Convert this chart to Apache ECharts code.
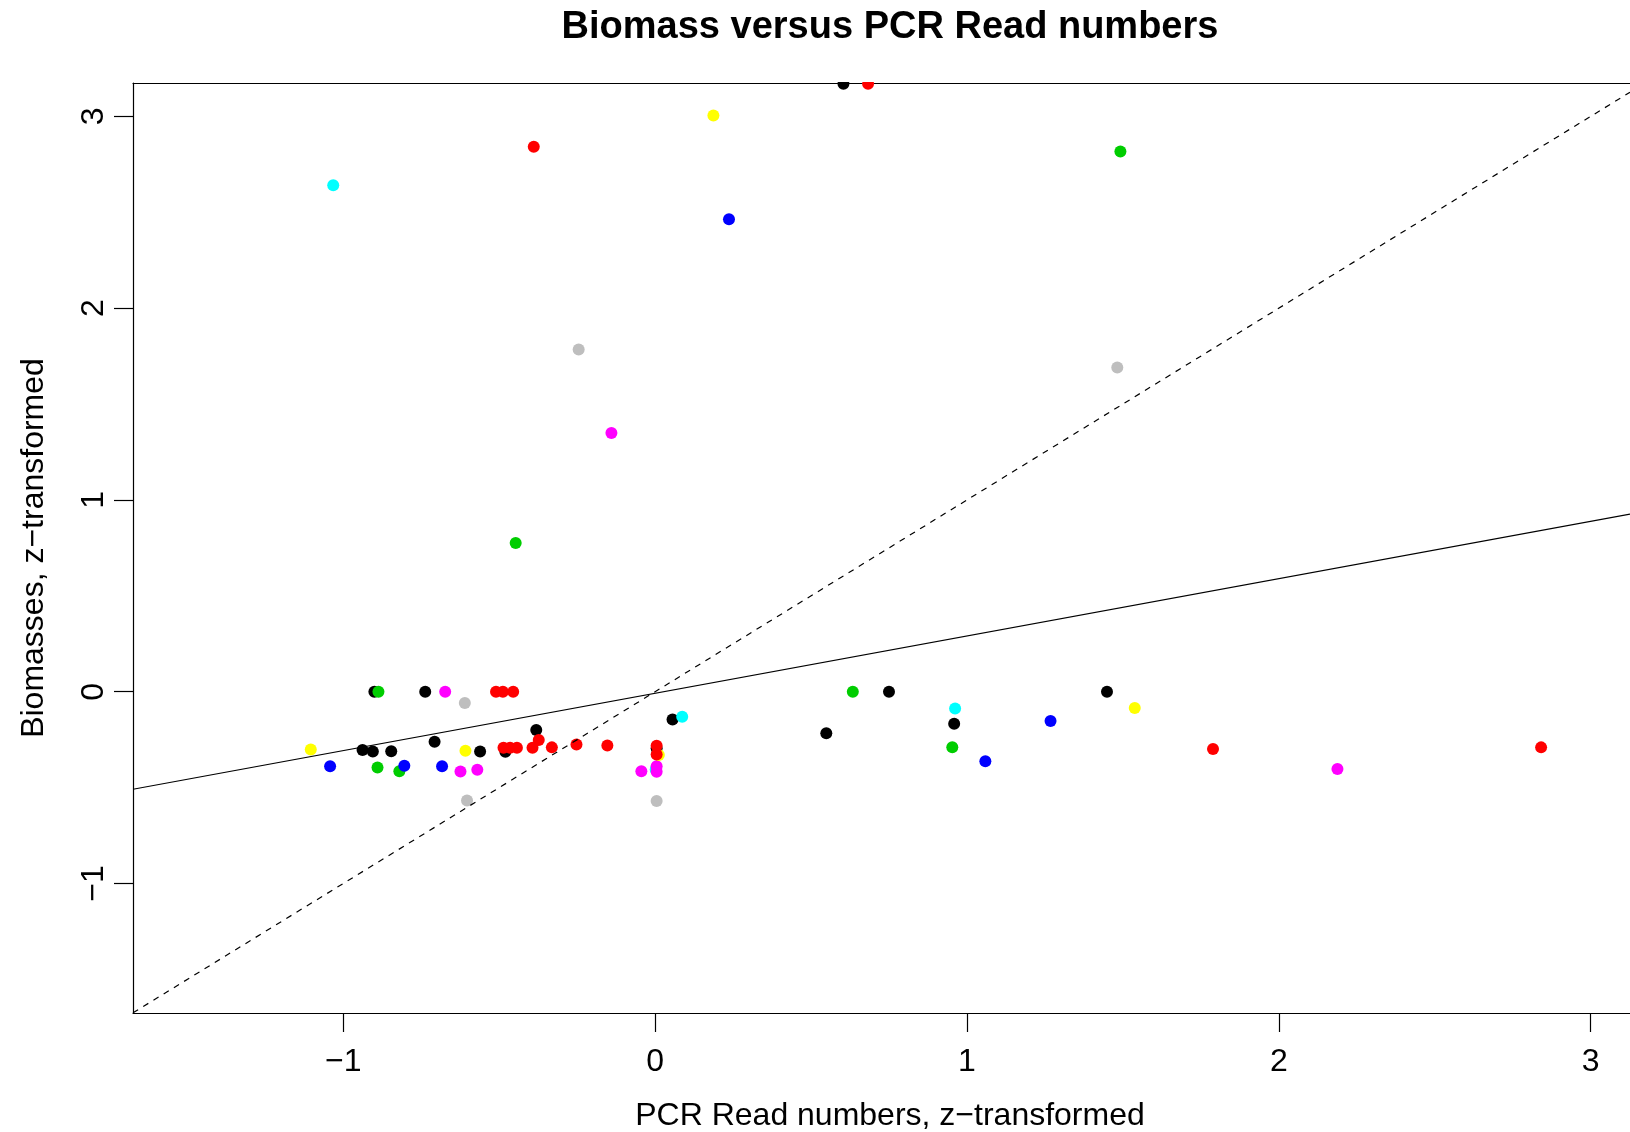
<!DOCTYPE html>
<html>
<head>
<meta charset="utf-8">
<script src="https://cdn.jsdelivr.net/npm/echarts@6/dist/echarts.min.js"></script>
<style>
html,body{margin:0;padding:0;background:#ffffff;overflow:hidden}
#chart{width:1630px;height:1132px}
</style>
</head>
<body>
<div id="chart"></div>
<script>
// ---------- texts ----------
const titleText = 'Biomass versus PCR Read numbers';
const xAxisTitle = 'PCR Read numbers, z\u2212transformed';
const yAxisTitle = 'Biomasses, z\u2212transformed';

// ---------- axes ----------
const xTicks = [-1, 0, 1, 2, 3];
const yTicks = [-1, 0, 1, 2, 3];
const xLimits = [-1.674, 3.126];
const yLimits = [-1.675, 3.174];

// ---------- reference lines (intercept, slope) ----------
const fitLine = [-0.008, 0.299];
const identityLine = [0, 1];

// ---------- points [x, y] per colour ----------
const grayPts = [[-0.610,-0.059],[-0.603,-0.567],[0.005,-0.570],[-0.245,1.785],[1.482,1.691]];
const blackPts = [[-0.900,0],[-0.737,0],[-0.938,-0.304],[-0.905,-0.311],[-0.846,-0.310],[-0.707,-0.261],
  [-0.561,-0.311],[-0.480,-0.313],[-0.381,-0.200],[0.005,-0.294],[0.056,-0.145],[0.604,3.170],
  [0.549,-0.216],[0.750,0],[0.959,-0.167],[1.449,0]];
const cyanPts = [[-1.032,2.641],[0.087,-0.130],[0.962,-0.087],[0.002,-0.405]];
const greenPts = [[-0.887,0],[-0.890,-0.395],[-0.820,-0.414],[-0.447,0.775],[0.634,0],[0.953,-0.289],[1.492,2.817]];
const bluePts = [[-1.042,-0.389],[-0.804,-0.386],[-0.683,-0.389],[0.237,2.464],[1.059,-0.362],[1.268,-0.153]];
const magentaPts = [[-0.673,0],[-0.624,-0.416],[-0.570,-0.407],[-0.044,-0.415],[0.005,-0.388],[0.005,-0.417],
  [-0.140,1.349],[2.188,-0.403]];
const yellowPts = [[-1.104,-0.301],[-0.608,-0.308],[0.012,-0.330],[0.187,3.005],[1.538,-0.085]];
const redPts = [[0.005,-0.281],[-0.510,0],[-0.488,0],[-0.455,0],[-0.486,-0.292],[-0.465,-0.292],[-0.443,-0.292],
  [-0.393,-0.292],[-0.373,-0.252],[-0.331,-0.290],[-0.252,-0.275],[-0.153,-0.280],[0.005,-0.327],
  [-0.389,2.841],[0.683,3.170],[1.789,-0.299],[2.841,-0.290]];

const groups = [
  ['gray', grayPts, '#BEBEBE'],
  ['black', blackPts, '#000000'],
  ['cyan', cyanPts, '#00FFFF'],
  ['green', greenPts, '#00CD00'],
  ['blue', bluePts, '#0000FF'],
  ['magenta', magentaPts, '#FF00FF'],
  ['yellow', yellowPts, '#FFFF00'],
  ['red', redPts, '#FF0000']
];

const FONT = '"Liberation Sans", Arial, Helvetica, sans-serif';
const fmt = v => (v < 0 ? '\u2212' + Math.abs(v) : String(v));
const lineEnds = coef => [xLimits[0], xLimits[1]].map(x => [x, coef[0] + coef[1] * x]);

const GRID = {left: 133, top: 83, right: 0, bottom: 119};

const series = groups.map(([name, pts, color]) => ({
  name: name,
  type: 'scatter',
  data: pts,
  symbol: 'circle',
  symbolSize: 12,
  itemStyle: {color: color, opacity: 1},
  emphasis: {disabled: true},
  silent: true
}));
series.push({
  name: 'fit', type: 'line', data: lineEnds(fitLine), symbol: 'none',
  lineStyle: {color: '#000', width: 1.2, type: 'solid'}, z: 3, silent: true
});
series.push({
  name: 'identity', type: 'line', data: lineEnds(identityLine), symbol: 'none',
  lineStyle: {color: '#000', width: 1.2, type: [6, 6]}, z: 3, silent: true
});

const chart = echarts.init(document.getElementById('chart'), null, {renderer: 'canvas'});
chart.setOption({
  animation: false,
  backgroundColor: '#ffffff',
  textStyle: {fontFamily: FONT},
  grid: Object.assign({outerBoundsMode: 'none', containLabel: false}, GRID),
  xAxis: [{
    type: 'value', position: 'bottom', min: xLimits[0], max: xLimits[1],
    axisLine: {show: true, onZero: false, lineStyle: {color: '#000', width: 1.2}},
    axisTick: {show: true, customValues: xTicks, length: 19, lineStyle: {color: '#000', width: 1.2}},
    axisLabel: {show: true, customValues: xTicks, formatter: fmt, margin: 33, fontSize: 32, color: '#000', fontFamily: FONT},
    splitLine: {show: false},
    name: xAxisTitle, nameLocation: 'middle', nameGap: 87,
    nameTextStyle: {fontSize: 32, color: '#000', fontFamily: FONT, padding: [0, 0, 0, 17]}
  }, {
    type: 'value', position: 'top', min: xLimits[0], max: xLimits[1],
    axisLine: {show: true, onZero: false, lineStyle: {color: '#000', width: 1.2}},
    axisTick: {show: false}, axisLabel: {show: false}, splitLine: {show: false}
  }],
  yAxis: [{
    type: 'value', position: 'left', min: yLimits[0], max: yLimits[1],
    axisLine: {show: true, onZero: false, lineStyle: {color: '#000', width: 1.2}},
    axisTick: {show: true, customValues: yTicks, length: 19, lineStyle: {color: '#000', width: 1.2}},
    axisLabel: {show: true, customValues: yTicks, formatter: fmt, rotate: 90, margin: 23, fontSize: 32, color: '#000', fontFamily: FONT},
    splitLine: {show: false},
    name: yAxisTitle, nameLocation: 'middle', nameGap: 83,
    nameTextStyle: {fontSize: 32, color: '#000', fontFamily: FONT}
  }],
  graphic: [
    {type: 'rect', shape: {x: GRID.left + 1, y: 0, width: 1630 - GRID.left, height: 82}, style: {fill: '#ffffff'}, z: 50, silent: true},
    {type: 'text', x: 890, y: 28, z: 60, silent: true,
     style: {text: titleText, fill: '#000', font: 'bold 38px ' + FONT, textAlign: 'center', textVerticalAlign: 'middle'}}
  ],
  series: series
});
</script>
</body>
</html>
